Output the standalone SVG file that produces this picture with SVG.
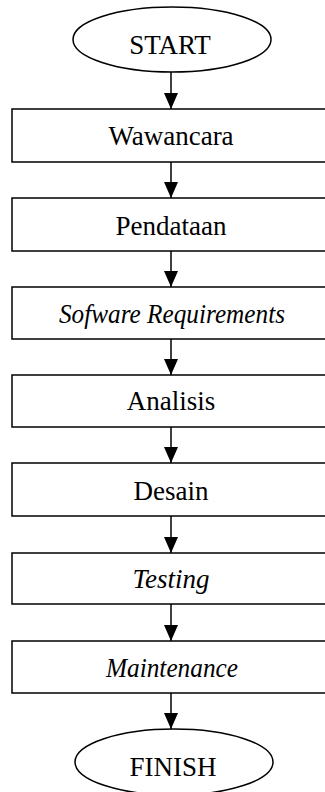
<svg xmlns="http://www.w3.org/2000/svg" width="325" height="792" viewBox="0 0 325 792">
<style>
.b{fill:#fff;stroke:#000;stroke-width:1.5}
.t{font-family:"Liberation Serif",serif;font-size:27px;text-anchor:middle;fill:#000}
.i{font-style:italic}
.c line{stroke:#000;stroke-width:1.5}
</style>
<defs>
<marker id="ah" markerUnits="userSpaceOnUse" markerWidth="16" markerHeight="14" refX="16" refY="7" orient="auto" viewBox="0 0 16 14">
<path d="M0,0 L16,7 L0,14 Z" fill="#000"/>
</marker>
</defs>
<rect width="325" height="792" fill="#fff"/>
<g class="c">
<line x1="171" y1="72" x2="171" y2="109" marker-end="url(#ah)"/>
<line x1="171" y1="162" x2="171" y2="198" marker-end="url(#ah)"/>
<line x1="171" y1="251" x2="171" y2="287" marker-end="url(#ah)"/>
<line x1="171" y1="339" x2="171" y2="375" marker-end="url(#ah)"/>
<line x1="171" y1="427" x2="171" y2="463" marker-end="url(#ah)"/>
<line x1="171" y1="516" x2="171" y2="553" marker-end="url(#ah)"/>
<line x1="171" y1="604" x2="171" y2="641" marker-end="url(#ah)"/>
<line x1="171" y1="693" x2="171" y2="729" marker-end="url(#ah)"/>
</g>
<g id="start"><ellipse class="b" cx="172" cy="39.5" rx="99" ry="32.5"/><text class="t" x="170" y="54">START</text></g>
<g id="wawancara"><rect class="b" x="12" y="109" width="330" height="53"/><text class="t" x="171" y="145">Wawancara</text></g>
<g id="pendataan"><rect class="b" x="12" y="198" width="330" height="53"/><text class="t" x="171" y="235">Pendataan</text></g>
<g id="software"><rect class="b" x="12" y="287" width="330" height="52"/><text class="t i" x="172" y="323" textLength="226" lengthAdjust="spacingAndGlyphs">Sofware Requirements</text></g>
<g id="analisis"><rect class="b" x="12" y="375" width="330" height="52"/><text class="t" x="171" y="410">Analisis</text></g>
<g id="desain"><rect class="b" x="12" y="463" width="330" height="53"/><text class="t" x="171" y="500">Desain</text></g>
<g id="testing"><rect class="b" x="12" y="553" width="330" height="51"/><text class="t i" x="171" y="588">Testing</text></g>
<g id="maintenance"><rect class="b" x="12" y="641" width="330" height="52"/><text class="t i" x="172" y="677" textLength="132" lengthAdjust="spacingAndGlyphs">Maintenance</text></g>
<g id="finish"><ellipse class="b" cx="174" cy="762" rx="99" ry="33"/><text class="t" x="173" y="776">FINISH</text></g>
</svg>
